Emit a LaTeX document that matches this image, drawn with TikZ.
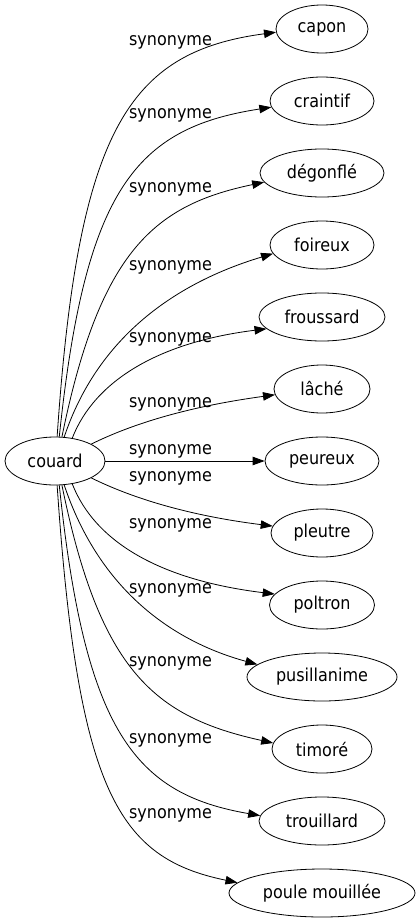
\documentclass[tikz,border=0pt]{standalone}
\usepackage{fontspec}
\setmainfont{DejaVu Sans}[FakeStretch=0.9]
\usetikzlibrary{shapes.geometric,arrows.meta}
\begin{document}
\begin{tikzpicture}[x=1pt, y=-1pt,
    word/.style={ellipse, draw, line width=0.8pt, inner sep=0pt, minimum height=48pt, font=\fontsize{17.8}{20}\selectfont},
    syn/.style={-{Triangle[length=12pt, width=8.5pt]}, line width=0.8pt},
    lbl/.style={inner sep=0pt, font=\fontsize{17.8}{20}\selectfont}]
    \useasboundingbox (0,0) rectangle (420,923);

    \node[word, minimum width=100pt] (couard) at (55,461) {couard};
    \node[word, minimum width=92pt] (capon) at (322,29) {capon};
    \node[word, minimum width=104pt] (craintif) at (322,101) {craintif};
    \node[word, minimum width=124pt] (degonfle) at (322,173) {dégonflé};
    \node[word, minimum width=104pt] (foireux) at (322,245) {foireux};
    \node[word, minimum width=126pt] (froussard) at (322,317) {froussard};
    \node[word, minimum width=96pt] (lache) at (322,389) {lâché};
    \node[word, minimum width=114pt] (peureux) at (322,461) {peureux};
    \node[word, minimum width=102pt] (pleutre) at (322,533) {pleutre};
    \node[word, minimum width=105pt] (poltron) at (322,605) {poltron};
    \node[word, minimum width=150pt] (pusillanime) at (322,677) {pusillanime};
    \node[word, minimum width=100pt] (timore) at (322,749) {timoré};
    \node[word, minimum width=126pt] (trouillard) at (322,821) {trouillard};
    \node[word, minimum width=186pt] (poule) at (322,893) {poule mouillée};

    % 線を引く
    \draw[syn] (couard.85) .. controls (78,130) and (128,52) .. (capon.184);
    \draw[syn] (couard.80) .. controls (85,190) and (135,128) .. (craintif.187);
    \draw[syn] (couard.74) .. controls (100,250) and (155,205) .. (degonfle.189);
    \draw[syn] (couard.69) .. controls (100,330) and (185,280) .. (foireux.190);
    \draw[syn] (couard.53) .. controls (95,380) and (160,342) .. (froussard.192);
    \draw[syn] (couard.25) .. controls (140,420) and (200,405) .. (lache.187);
    \draw[syn] (couard) -- (peureux);
    \draw[syn] (couard.-25) .. controls (140,502) and (200,517) .. (pleutre.172);
    \draw[syn] (couard.-53) .. controls (95,542) and (160,580) .. (poltron.167);
    \draw[syn] (couard.-69) .. controls (100,592) and (175,642) .. (pusillanime.169);
    \draw[syn] (couard.-74) .. controls (100,672) and (155,717) .. (timore.173);
    \draw[syn] (couard.-80) .. controls (85,732) and (135,794) .. (trouillard.175);
    \draw[syn] (couard.-85) .. controls (78,792) and (118,858) .. (poule.173);

    % ラベル
    \node[lbl] (l1) at (170.5,42) {synonyme};
    \node[lbl] (l2) at (170.5,115) {synonyme};
    \node[lbl] (l3) at (170.5,189) {synonyme};
    \node[lbl] (l4) at (170.5,267) {synonyme};
    \node[lbl] (l5) at (170.5,339) {synonyme};
    \node[lbl] (l6) at (170.5,404) {synonyme};
    \node[lbl] (l7) at (170.5,451) {synonyme};
    \node[lbl] (l8) at (170.5,478) {synonyme};
    \node[lbl] (l9) at (170.5,525) {synonyme};
    \node[lbl] (l10) at (170.5,590) {synonyme};
    \node[lbl] (l11) at (170.5,663) {synonyme};
    \node[lbl] (l12) at (170.5,740) {synonyme};
    \node[lbl] (l13) at (170.5,815) {synonyme};
\end{tikzpicture}
\end{document}
